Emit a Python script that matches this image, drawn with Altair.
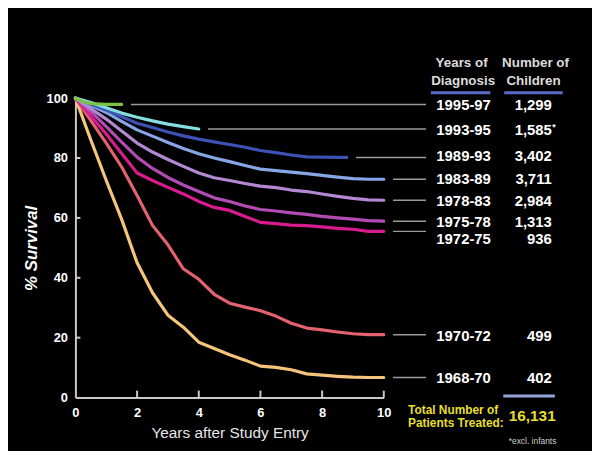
import altair as alt
import pandas as pd

# ---- data ----
periods = ["1995-97", "1993-95", "1989-93", "1983-89", "1978-83",
           "1975-78", "1972-75", "1970-72", "1968-70"]
counts = ["1,299", "1,585", "3,402", "3,711", "2,984", "1,313", "936", "499", "402"]
count_notes = ["", "*", "", "", "", "", "", "", ""]
colors = ["#7cc243", "#86dde0", "#3d52b4", "#86a6e6", "#b488d2",
          "#b24cb4", "#d81b8e", "#e2636f", "#f6c57c"]

grid = [0, 0.5, 1, 1.5, 2, 2.5, 3, 3.5, 4, 4.5, 5, 5.5, 6, 6.5, 7, 7.5, 8, 8.5, 9, 9.5, 10]

years = {
    "1995-97": [0, 0.25, 0.5, 1, 1.5],
    "1993-95": grid[:9],
    "1989-93": grid[:18] + [8.8],
    "1983-89": grid, "1978-83": grid, "1975-78": grid,
    "1972-75": grid, "1970-72": grid, "1968-70": grid,
}
survival = {
    "1995-97": [100, 98.8, 98.2, 97.9, 97.9],
    "1993-95": [100, 98.5, 96.8, 95.0, 93.6, 92.4, 91.3, 90.5, 89.7],
    "1989-93": [100, 98.0, 96.0, 93.8, 91.6, 90.2, 88.7, 87.4, 86.3, 85.4,
                84.5, 83.6, 82.5, 81.8, 81.0, 80.4, 80.3, 80.2, 80.2],
    "1983-89": [100, 97.6, 95.2, 92.2, 89.4, 87.3, 85.2, 83.2, 81.4, 80.0,
                78.8, 77.5, 76.3, 75.8, 75.3, 74.8, 74.2, 73.6, 73.1, 72.9, 72.9],
    "1978-83": [100, 96.5, 93.0, 89.0, 85.0, 82.0, 79.5, 77.2, 75.0, 73.4,
                72.5, 71.5, 70.6, 70.1, 69.3, 68.8, 68.0, 67.2, 66.5, 66.0, 65.9],
    "1975-78": [100, 95.5, 90.5, 85.3, 80.3, 76.5, 73.5, 71.0, 68.8, 66.7,
                65.5, 64.0, 62.8, 62.3, 61.7, 61.2, 60.5, 60.0, 59.6, 59.1, 58.9],
    "1972-75": [100, 94.0, 88.0, 81.5, 75.0, 72.5, 70.2, 68.0, 65.5, 63.5,
                62.5, 60.5, 58.5, 58.1, 57.6, 57.4, 57.0, 56.5, 56.2, 55.5, 55.5],
    "1970-72": [100, 92.5, 85.0, 77.0, 67.5, 57.5, 51.0, 43.0, 39.5, 34.5,
                31.5, 30.2, 29.0, 27.2, 24.8, 23.2, 22.6, 21.9, 21.3, 21.0, 21.0],
    "1968-70": [100, 86.0, 72.5, 59.5, 45.0, 35.0, 27.5, 23.5, 18.5, 16.4,
                14.3, 12.5, 10.5, 10.1, 9.3, 7.9, 7.5, 7.1, 6.8, 6.7, 6.7],
}
label_y = [97.8, 89.3, 80.5, 73.0, 65.6, 58.6, 53.0, 20.7, 6.5]
x_ticks = [0, 2, 4, 6, 8, 10]
y_ticks = [0, 20, 40, 60, 80, 100]

FONT = "Liberation Sans"
W, H = 311, 302

rows = []
for order, p in enumerate(reversed(periods)):
    for t, v in zip(years[p], survival[p]):
        rows.append({"period": p, "t": t, "v": v, "ord": order})
lines_df = pd.DataFrame(rows)

lead_df = pd.DataFrame({
    "period": periods,
    "x": [years[p][-1] + 0.3 for p in periods],
    "x2": [11.37] * len(periods),
    "y": [survival[p][-1] for p in periods],
})
lab_df = pd.DataFrame({"period": periods, "count": counts, "note": count_notes, "ly": label_y})

xs = alt.Scale(domain=[0, 10], nice=False)
ys = alt.Scale(domain=[0, 100], nice=False)

xaxis = alt.Axis(values=x_ticks, title="Years after Study Entry", ticks=False, grid=False,
                 labelFlush=False, labelOverlap=False,
                 labelFontWeight="bold", labelFontSize=13, labelColor="white", labelPadding=9,
                 labelFont=FONT, titleFont=FONT, titleFontSize=15.5, titleFontWeight="normal",
                 titleColor="#e6e6e6", titlePadding=6, domainColor="#c8c8c8", domainWidth=2)
yaxis = alt.Axis(values=y_ticks, title="% Survival", ticks=False, grid=False,
                 labelFlush=False, labelOverlap=False,
                 labelFontWeight="bold", labelFontSize=13, labelColor="white", labelPadding=8,
                 labelFont=FONT, titleFont=FONT, titleFontSize=17, titleFontWeight="bold",
                 titleFontStyle="italic", titleColor="white", titlePadding=6,
                 domainColor="#c8c8c8", domainWidth=2)

lines = alt.Chart(lines_df).mark_line(strokeWidth=3.2, strokeCap="round", strokeJoin="round").encode(
    x=alt.X("t:Q", scale=xs, axis=xaxis),
    y=alt.Y("v:Q", scale=ys, axis=yaxis),
    color=alt.Color("period:N", scale=alt.Scale(domain=periods, range=colors), legend=None),
    order=alt.Order("ord:Q"),
    detail="period:N",
)

leaders = alt.Chart(lead_df).mark_rule(color="#9a9a9a", strokeWidth=1.5).encode(
    x=alt.X("x:Q", scale=xs), x2="x2:Q", y=alt.Y("y:Q", scale=ys))

xt = alt.Chart(pd.DataFrame({"t": x_ticks[1:]})).mark_rule(color="#c8c8c8", strokeWidth=2).encode(
    x=alt.X("t:Q", scale=xs), y=alt.value(H), y2=alt.value(H - 7))
yt = alt.Chart(pd.DataFrame({"v": y_ticks[1:-1]})).mark_rule(color="#c8c8c8", strokeWidth=2).encode(
    y=alt.Y("v:Q", scale=ys), x=alt.value(0), x2=alt.value(5))

year_txt = alt.Chart(lab_df).mark_text(align="left", baseline="middle", font=FONT, fontSize=15,
                                       fontWeight="bold", color="white").encode(
    x=alt.value(364), y=alt.Y("ly:Q", scale=ys), text="period:N")
count_txt = alt.Chart(lab_df).mark_text(align="right", baseline="middle", font=FONT, fontSize=15,
                                        fontWeight="bold", color="white").encode(
    x=alt.value(480.5), y=alt.Y("ly:Q", scale=ys), text="count:N")
note_txt = alt.Chart(lab_df).mark_text(align="left", baseline="middle", font=FONT, fontSize=9,
                                       fontWeight="bold", color="white", dy=-3).encode(
    x=alt.value(481), y=alt.Y("ly:Q", scale=ys), text="note:N")

one = pd.DataFrame({"a": [0]})


def txt(s, x, y, size, color, align="center", weight="bold"):
    return alt.Chart(one).mark_text(text=s, align=align, baseline="middle", font=FONT,
                                    fontSize=size, fontWeight=weight, color=color).encode(
        x=alt.value(x), y=alt.value(y))


def hline(x1, x2, y, color):
    return alt.Chart(one).mark_rule(color=color, strokeWidth=3).encode(
        x=alt.value(x1), x2=alt.value(x2), y=alt.value(y))


annots = [
    txt("Years of", 389.5, -35, 13.5, "#dcdcdc"),
    txt("Diagnosis", 391, -17.5, 13.5, "#dcdcdc"),
    txt("Number of", 464, -35, 13.5, "#dcdcdc"),
    txt("Children", 462, -17.5, 13.5, "#dcdcdc"),
    hline(358.5, 418.5, -5.5, "#5a6cc8"),
    hline(432.5, 491.5, -5.5, "#5a6cc8"),
    hline(431.5, 483.5, 300.5, "#94a4d8"),
    txt("Total Number of", 335.5, 315, 12, "#e6df2e", align="left"),
    txt("Patients Treated:", 335.5, 328, 12, "#e6df2e", align="left"),
    txt("16,131", 437, 321, 15.5, "#e6df2e", align="left"),
    txt("*excl. infants", 437, 346, 8.5, "#cfcfcf", align="left", weight="normal"),
]

chart = alt.layer(leaders, xt, yt, lines, year_txt, count_txt, note_txt, *annots).properties(
    width=W, height=H,
    autosize="none",
    padding={"left": 68, "top": 89, "right": 210, "bottom": 52},
).configure(background="black").configure_view(stroke=None)

chart.save("out.html", embed_options={"renderer": "svg", "actions": False})
